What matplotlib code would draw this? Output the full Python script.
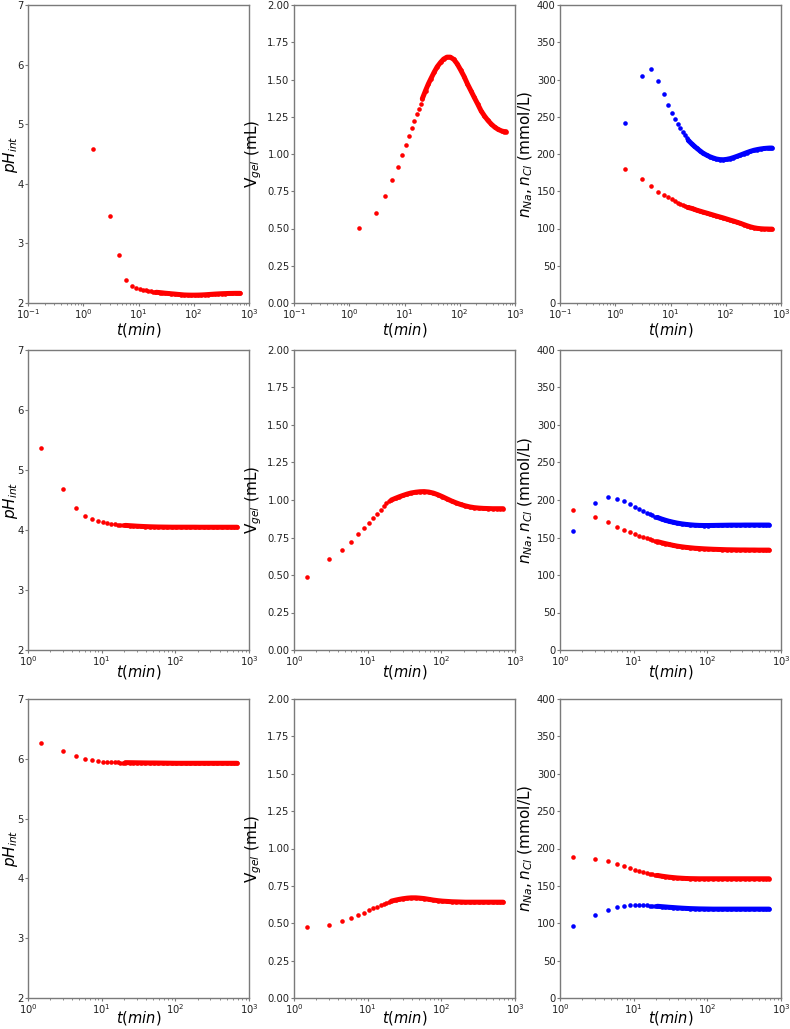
import numpy as np
import matplotlib
matplotlib.use("Agg")
import matplotlib.pyplot as plt

# ---- time grid (min) ----
t_early = [1.5, 3, 4.5, 6, 7.5, 9, 10.5, 12, 13.5, 15, 16.5, 18, 19.5, 21]
t_late = [24, 27, 30, 34.5, 39, 45, 51, 58.5, 67.5, 78, 90, 103.5, 120, 138,
          159, 183, 211.5, 243, 280.5, 324, 373.5, 430.5, 495, 570, 625.5, 690]

# ---- row 1 ----
ph1 = [4.59, 3.46, 2.80, 2.38, 2.285, 2.25, 2.23, 2.22, 2.21, 2.20, 2.195, 2.19, 2.185, 2.18,
       2.175, 2.17, 2.165, 2.16, 2.155, 2.15, 2.145, 2.14, 2.135, 2.133, 2.132, 2.132, 2.133,
       2.135, 2.138, 2.142, 2.146, 2.15, 2.153, 2.156, 2.158, 2.16, 2.161, 2.162, 2.162, 2.162]
v1 = [0.504, 0.607, 0.719, 0.824, 0.915, 0.993, 1.060, 1.12, 1.174, 1.221, 1.266, 1.304, 1.337, 1.371,
      1.425, 1.47, 1.505, 1.55, 1.585, 1.615, 1.637, 1.65, 1.65, 1.635, 1.605, 1.565, 1.52,
      1.47, 1.425, 1.38, 1.335, 1.29, 1.255, 1.225, 1.20, 1.18, 1.165, 1.155, 1.151, 1.15]
na1 = [180, 166.5, 156.7, 149.6, 145, 142, 139.3, 136.6, 134.8, 133, 131.6, 130.4, 129.0, 128.2,
       127, 125.8, 124.5, 123.2, 122, 120.7, 119.5, 118.2, 116.8, 115.5, 114.2, 112.8, 111.3,
       110, 108.5, 107, 105.3, 103.7, 102.2, 101, 100.2, 99.7, 99.4, 99.3, 99.2, 99.2]
cl1 = [241.5, 304.9, 314.7, 298.2, 280, 265.6, 255.4, 247.3, 240.6, 234.8, 229.9, 225.4, 221.9, 218.3,
       214, 210.5, 207.6, 204, 201, 198.5, 196.5, 194.8, 193.3, 192.5, 192.3, 192.8, 193.8,
       195.2, 196.8, 198.5, 200.3, 202, 203.6, 205, 206, 206.8, 207.4, 207.8, 208, 208]

# ---- row 2 ----
ph2 = [5.37, 4.68, 4.37, 4.24, 4.18, 4.15, 4.13, 4.12, 4.105, 4.095, 4.09, 4.085, 4.08, 4.077,
       4.072, 4.068, 4.064, 4.06, 4.057, 4.054, 4.052, 4.05, 4.049, 4.048, 4.047, 4.047, 4.047,
       4.047, 4.047, 4.047, 4.046, 4.046, 4.046, 4.046, 4.046, 4.046, 4.046, 4.046, 4.046, 4.046]
v2 = [0.489, 0.604, 0.664, 0.722, 0.771, 0.811, 0.849, 0.882, 0.909, 0.936, 0.958, 0.978, 0.99, 1.0,
      1.012, 1.022, 1.03, 1.04, 1.047, 1.052, 1.055, 1.056, 1.053, 1.046, 1.035, 1.022, 1.007,
      0.993, 0.981, 0.97, 0.961, 0.954, 0.949, 0.946, 0.944, 0.943, 0.942, 0.942, 0.942, 0.942]
na2 = [186.2, 177.7, 170.2, 164.4, 160.4, 157.2, 154.6, 152.3, 150.6, 148.8, 147.6, 146.5, 145.4, 144.5,
       143, 141.8, 140.8, 139.5, 138.5, 137.6, 136.9, 136.3, 135.7, 135.3, 134.9, 134.6, 134.3,
       134.1, 133.9, 133.7, 133.6, 133.5, 133.4, 133.4, 133.3, 133.3, 133.2, 133.2, 133.2, 133.2]
cl2 = [159, 196, 203.6, 201.8, 198.2, 194.2, 190.6, 188, 185.3, 183, 181.2, 179.5, 178, 176.7,
       174.6, 173, 171.7, 170.3, 169.2, 168.2, 167.5, 166.9, 166.4, 166.1, 166, 166, 166.1,
       166.2, 166.3, 166.4, 166.5, 166.5, 166.5, 166.6, 166.6, 166.6, 166.6, 166.6, 166.6, 166.6]

# ---- row 3 ----
ph3 = [6.26, 6.126, 6.048, 6.003, 5.975, 5.964, 5.953, 5.947, 5.944, 5.942, 5.94, 5.938, 5.937, 5.936,
       5.935, 5.934, 5.933, 5.932, 5.931, 5.93, 5.93, 5.929, 5.928, 5.927, 5.926, 5.925, 5.925,
       5.925, 5.925, 5.925, 5.925, 5.925, 5.925, 5.925, 5.925, 5.925, 5.925, 5.925, 5.925, 5.925]
v3 = [0.474, 0.49, 0.512, 0.532, 0.552, 0.570, 0.586, 0.599, 0.610, 0.619, 0.628, 0.637, 0.643, 0.648,
      0.655, 0.66, 0.664, 0.668, 0.67, 0.67, 0.668, 0.665, 0.66, 0.655, 0.651, 0.648, 0.646,
      0.644, 0.643, 0.642, 0.641, 0.641, 0.641, 0.641, 0.641, 0.641, 0.641, 0.641, 0.641, 0.641]
na3 = [188.9, 186.2, 183.1, 179.5, 176.8, 174.2, 171.9, 170.2, 168.8, 167.5, 166.5, 165.5, 164.7, 164.0,
       163, 162.3, 161.7, 161.1, 160.6, 160.2, 159.9, 159.7, 159.6, 159.5, 159.5, 159.5, 159.5,
       159.5, 159.5, 159.5, 159.5, 159.5, 159.5, 159.5, 159.5, 159.5, 159.5, 159.5, 159.5, 159.5]
cl3 = [96.7, 110.5, 118, 121.2, 123.4, 124.3, 124.5, 124.4, 124.2, 123.9, 123.6, 123.3, 123.0, 122.7,
       122.2, 121.8, 121.4, 121, 120.6, 120.2, 119.9, 119.6, 119.4, 119.2, 119.1, 119, 118.9,
       118.9, 118.9, 118.9, 118.9, 118.9, 118.9, 118.9, 118.9, 118.9, 118.9, 118.9, 118.9, 118.9]

xlims = [(0.1, 1000), (1, 1000), (1, 1000)]
ph_ticks = [2, 3, 4, 5, 6, 7]
v_ticks = [0.00, 0.25, 0.50, 0.75, 1.00, 1.25, 1.50, 1.75, 2.00]
n_ticks = [0, 50, 100, 150, 200, 250, 300, 350, 400]

t_all = np.array(t_early + t_late)
n_early = len(t_early)

W, H = 790, 1029
fig = plt.figure(figsize=(W / 100, H / 100), dpi=100)

col_left = [28, 294, 560]
ax_w = 221
rows_px = [(5, 303), (350, 650), (699, 998)]
xlabel_drop_px = [18, 13, 11]
ylabel_right_px = [20, 264, 535]

SPINE = "#7a7a7a"
MS = 3.3


def draw(ax, y, color):
    y = np.asarray(y)
    ax.plot(t_all[n_early - 1:], y[n_early - 1:], color=color, lw=3.6,
            solid_capstyle="round", zorder=2)
    ax.plot(t_all, y, linestyle="none", marker="o", ms=MS, color=color,
            markeredgewidth=0, zorder=3)


def style(ax, xl, r, c, h_px):
    ax.set_xscale("log")
    ax.set_xlim(*xl)
    for s in ax.spines.values():
        s.set_color(SPINE)
        s.set_linewidth(1.0)
    ax.tick_params(which="both", color=SPINE, labelsize=7.2, labelcolor="#222222", pad=1.0)
    ax.tick_params(which="major", length=2.2)
    ax.tick_params(which="minor", length=1.4)
    ax.set_xlabel(r"$t(min)$", fontsize=10.5)
    ax.xaxis.set_label_coords(0.5, -xlabel_drop_px[r] / h_px)
    ax.yaxis.set_label_coords((ylabel_right_px[c] - col_left[c]) / ax_w, 0.5)


rows = [(ph1, v1, na1, cl1), (ph2, v2, na2, cl2), (ph3, v3, na3, cl3)]
for r, (ph, v, na, cl) in enumerate(rows):
    top, bot = rows_px[r]
    axs = []
    for c in range(3):
        ax = fig.add_axes([col_left[c] / W, 1 - bot / H, ax_w / W, (bot - top) / H])
        axs.append(ax)
    a0, a1, a2 = axs
    draw(a0, ph, "red")
    a0.set_ylim(2, 7)
    a0.set_yticks(ph_ticks)
    a0.set_ylabel(r"$pH_{int}$", fontsize=11)
    draw(a1, v, "red")
    a1.set_ylim(0, 2)
    a1.set_yticks(v_ticks)
    a1.set_yticklabels([f"{x:.2f}" for x in v_ticks])
    a1.set_ylabel(r"V$_{gel}$ (mL)", fontsize=11)
    draw(a2, cl, "blue")
    draw(a2, na, "red")
    a2.set_ylim(0, 400)
    a2.set_yticks(n_ticks)
    a2.set_ylabel(r"$n_{Na}, n_{Cl}$ (mmol/L)", fontsize=11)
    for c, ax in enumerate(axs):
        style(ax, xlims[r], r, c, bot - top)

fig.savefig("out.png", dpi=100)
